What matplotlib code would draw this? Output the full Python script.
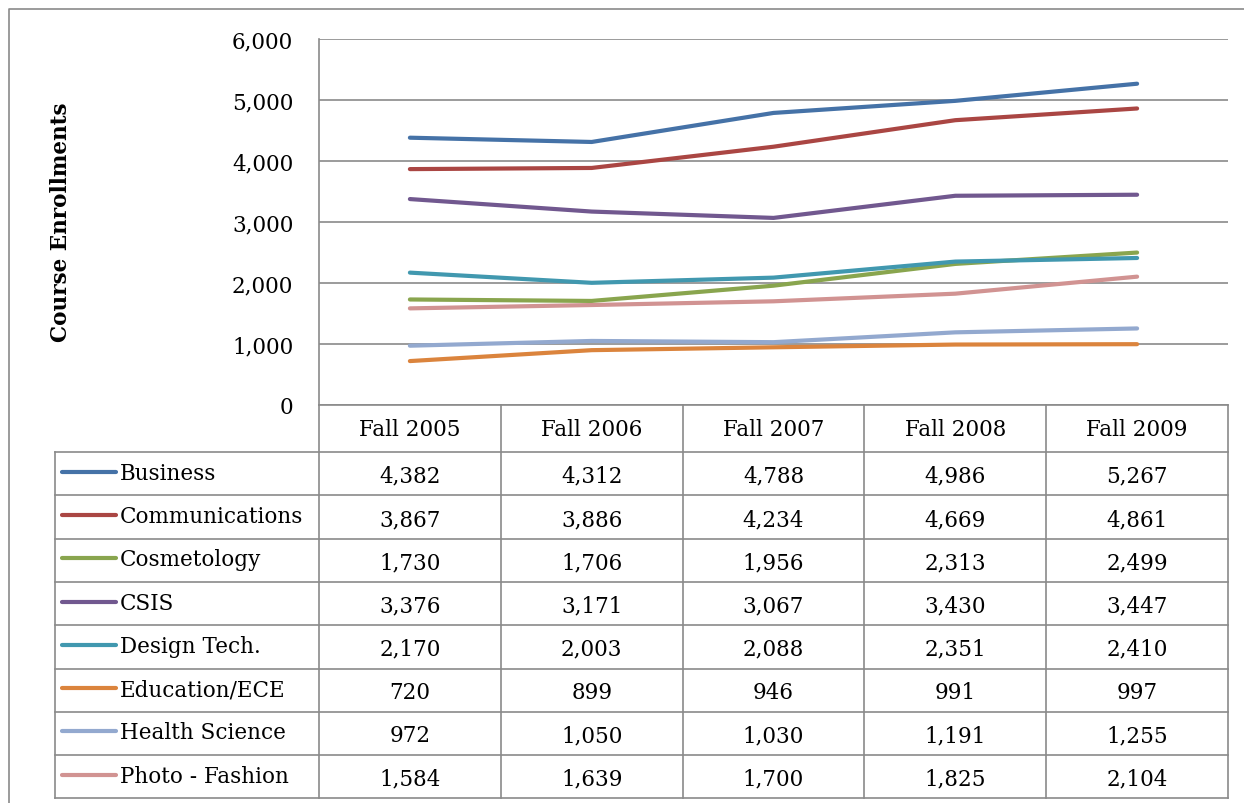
import matplotlib.pyplot as plt
from matplotlib.lines import Line2D
from matplotlib.ticker import FuncFormatter

semestres = ["Fall 2005", "Fall 2006", "Fall 2007", "Fall 2008", "Fall 2009"]
programas = ["Business", "Communications", "Cosmetology", "CSIS", "Design Tech.",
             "Education/ECE", "Health Science", "Photo - Fashion"]
business = [4382, 4312, 4788, 4986, 5267]
communications = [3867, 3886, 4234, 4669, 4861]
cosmetology = [1730, 1706, 1956, 2313, 2499]
csis = [3376, 3171, 3067, 3430, 3447]
design_tech = [2170, 2003, 2088, 2351, 2410]
education = [720, 899, 946, 991, 997]
health = [972, 1050, 1030, 1191, 1255]
photo = [1584, 1639, 1700, 1825, 2104]
valores = [business, communications, cosmetology, csis, design_tech, education, health, photo]
colores = ['#4572A7', '#AA4643', '#89A54E', '#71588F', '#4198AF', '#DB843D', '#93A9CF', '#D19392']

W, H = 1244, 804
fuente = 'DejaVu Serif'
gris = '#8a8a8a'
tam = 15.5

fig = plt.figure(figsize=(W / 100, H / 100), dpi=100)

# eje de fondo en pixeles para el marco y la tabla
fondo = fig.add_axes([0, 0, 1, 1])
fondo.set_xlim(0, W)
fondo.set_ylim(H, 0)
fondo.axis('off')

# posiciones de la tabla (pixeles)
x_izq, x0, x1 = 55, 319, 1228
y_top, y_head = 406, 453
alto_fila = 43.3
ancho_col = (x1 - x0) / len(semestres)

# marco exterior
fondo.plot([9, 9, W + 5], [H + 5, 10, 10], color=gris, lw=1.2)

# area del grafico
ax = fig.add_axes([x0 / W, (H - y_top) / H, (x1 - x0) / W, (y_top - 40) / H])
ax.set_xlim(-0.5, len(semestres) - 0.5)
ax.set_ylim(0, 6000)
ax.set_yticks(range(0, 6001, 1000))
ax.yaxis.set_major_formatter(FuncFormatter(lambda v, p: "{:,}".format(int(v))))
ax.grid(axis='y', color=gris, lw=1.2)
ax.set_axisbelow(True)
for s in ['top', 'right', 'bottom']:
    ax.spines[s].set_visible(False)
ax.spines['left'].set_color(gris)
ax.spines['left'].set_linewidth(1.2)
ax.tick_params(axis='y', length=0, pad=18.5, labelsize=tam)
ax.tick_params(axis='x', length=0, labelbottom=False)
for lab in ax.get_yticklabels():
    lab.set_fontfamily(fuente)
ax.patch.set_alpha(0)

xs = list(range(len(semestres)))
for serie, c in zip(valores, colores):
    ax.plot(xs, serie, color=c, lw=3, solid_capstyle='round', solid_joinstyle='round')

fig.text(61 / W, 1 - 222 / H, "Course Enrollments", rotation=90, ha='center', va='center',
         fontsize=tam, fontweight='bold', family=fuente)

# tabla de datos
n = len(programas)
y_fin = y_head + n * alto_fila
# lineas horizontales
fondo.plot([x0, x1], [y_top, y_top], color=gris, lw=1.2)
for i in range(n + 1):
    y = y_head + i * alto_fila
    fondo.plot([x_izq, x1], [y, y], color=gris, lw=1.2)
# lineas verticales
fondo.plot([x_izq, x_izq], [y_head, y_fin], color=gris, lw=1.2)
for j in range(len(semestres) + 1):
    x = x0 + j * ancho_col
    fondo.plot([x, x], [y_top, y_fin], color=gris, lw=1.2)

for j, s in enumerate(semestres):
    fondo.text(x0 + (j + 0.5) * ancho_col, (y_top + y_head) / 2 + 1, s, ha='center', va='center',
               fontsize=tam, family=fuente)

for i, (prog, serie, c) in enumerate(zip(programas, valores, colores)):
    yc = y_head + (i + 0.5) * alto_fila
    fondo.add_line(Line2D([62, 116], [yc - 2, yc - 2], color=c, lw=3, solid_capstyle='round'))
    fondo.text(120, yc - 1, prog, ha='left', va='center', fontsize=tam, family=fuente)
    for j, v in enumerate(serie):
        fondo.text(x0 + (j + 0.5) * ancho_col, yc + 2, "{:,}".format(v), ha='center', va='center',
                   fontsize=tam, family=fuente)

fig.savefig('out.png', dpi=100)
